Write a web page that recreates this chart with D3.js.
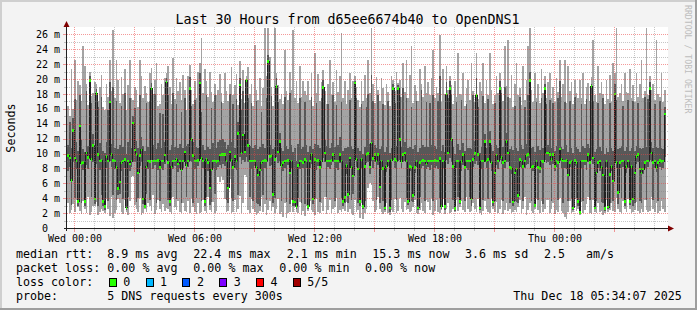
<!doctype html>
<html>
<head>
<meta charset="utf-8">
<script src="https://d3js.org/d3.v7.min.js"></script>
<style>
body { margin: 0; background: #f3f3f3; }
text { font-family: "DejaVu Sans Mono", monospace; fill: #000; }
</style>
</head>
<body>
<script>
var width = 697, height = 310;

// one value per 5 minute step (ms)
var median = [
 9.7,9.4,6.4,13.1,9.4,9.0,3.6,13.7,8.7,8.8,3.6,10.1,9.5,19.8,9.2,11.1,3.9,18.1,9.9,9.0,9.1,3.6,2.9,9.6,9.0,16.9,9.9,9.1,9.0,8.1,5.3,6.2,8.8,9.0,9.2,2.7,9.0,8.6,9.0,14.1,10.5,9.9,7.4,9.7,10.5,3.9,2.9,8.2,9.0,8.9,18.7,9.0,9.0,9.0,9.1,8.1,9.0,9.0,9.8,19.6,8.8,3.6,8.2,9.0,9.0,9.2,8.6,9.0,7.8,9.0,10.2,8.4,
 9.0,18.7,11.9,9.7,9.0,9.0,9.1,19.5,9.3,9.0,3.6,9.2,8.8,5.4,7.8,9.0,9.0,8.9,9.0,9.8,9.9,9.9,9.9,9.0,5.4,10.2,9.1,8.1,9.6,9.0,12.7,19.2,10.1,12.5,10.2,19.8,11.1,9.0,9.0,9.0,9.0,8.1,7.1,7.8,8.8,9.0,9.1,9.0,22.4,9.6,9.7,4.5,9.2,19.0,10.2,11.6,8.4,8.8,9.0,9.0,9.1,7.4,9.0,3.6,3.5,2.9,8.4,9.0,9.0,8.8,9.2,9.0,
 2.9,9.0,9.9,3.9,9.2,9.0,9.1,8.1,9.0,18.9,10.1,9.0,9.0,9.0,9.1,9.9,9.0,9.0,9.0,9.9,9.0,3.6,4.1,8.4,4.5,9.4,8.1,7.0,19.5,9.2,7.9,3.6,9.2,2.9,8.3,9.9,10.0,8.2,11.4,9.3,9.9,9.0,9.9,5.5,9.0,8.0,2.7,8.3,9.0,2.7,9.1,18.7,9.2,9.0,18.7,11.9,8.9,9.9,10.1,9.0,3.6,8.3,8.1,4.4,8.1,9.0,2.7,8.8,9.0,9.1,9.0,8.6,
 9.0,9.0,9.0,9.0,9.1,9.0,9.0,9.3,2.9,9.0,2.9,18.0,10.1,18.7,11.9,8.3,2.6,9.0,9.0,3.6,8.9,9.9,8.1,9.0,9.0,9.0,3.9,9.2,10.0,17.8,9.9,2.7,9.0,9.0,11.6,9.0,9.2,11.6,8.8,3.5,7.4,9.8,9.0,18.7,9.5,8.8,9.0,11.6,10.1,8.1,8.0,3.5,7.4,7.9,4.4,9.2,9.0,8.3,9.0,9.7,9.9,19.8,8.1,8.3,3.0,9.0,8.1,8.0,9.0,8.9,18.7,10.1,
 10.1,9.9,9.2,9.9,8.3,9.0,8.8,10.6,9.2,9.0,9.0,9.1,7.1,8.8,9.0,2.7,9.1,8.8,3.6,2.1,9.0,9.0,9.0,9.0,9.9,8.8,19.0,9.4,2.7,7.4,8.8,9.0,8.1,7.1,2.6,9.0,2.8,7.2,8.3,6.3,18.0,8.8,4.8,8.8,9.0,9.0,3.6,8.3,9.0,3.6,8.3,3.9,7.4,9.6,9.9,7.9,7.4,7.9,8.8,9.0,9.0,18.7,10.1,8.8,9.0,8.1,8.8,9.1,8.9,9.0,15.3
];
var pingMin = [
 3.4,2.0,2.4,3.2,2.1,3.8,2.8,2.3,1.9,3.6,2.6,2.0,4.1,1.7,2.2,3.0,2.9,3.5,1.8,2.1,2.6,2.3,2.0,3.9,2.5,1.6,4.2,1.3,2.0,2.4,3.9,3.4,2.2,1.9,3.7,2.1,1.7,3.6,6.8,7.0,3.1,2.6,2.2,4.0,1.8,2.0,2.6,2.2,3.3,2.9,2.3,4.4,1.9,2.4,3.8,2.6,2.1,3.2,2.3,2.7,2.5,2.2,1.9,4.2,2.8,2.4,3.6,2.2,2.0,3.4,2.3,2.1,
 3.6,2.0,4.0,2.8,2.1,1.9,3.4,2.0,2.2,3.8,2.3,2.0,4.2,2.4,2.2,3.5,2.0,2.3,6.8,6.2,7.0,6.5,3.9,2.1,2.3,6.6,2.0,2.2,3.7,2.1,2.6,4.3,2.0,3.4,7.1,6.9,2.4,2.0,3.9,2.5,2.1,1.8,2.0,2.3,4.1,2.2,3.2,1.7,2.4,3.6,2.3,2.8,2.0,2.6,3.9,1.9,2.1,1.5,3.3,1.4,2.0,2.2,3.8,2.1,2.8,2.2,2.0,3.5,1.8,2.3,1.6,3.0,
 2.3,3.6,2.4,2.1,1.8,3.9,2.2,2.0,3.4,2.3,4.1,1.9,2.4,3.7,2.0,2.5,2.8,4.0,2.0,2.4,2.1,2.6,2.3,3.5,2.2,2.5,2.0,1.7,3.8,2.1,2.4,1.4,3.3,1.2,2.0,2.6,5.4,6.0,5.8,3.6,2.1,2.4,4.2,2.6,2.2,1.9,2.1,3.4,2.0,1.8,2.4,2.2,3.9,2.0,2.3,4.0,2.5,2.2,3.5,2.4,2.6,2.1,2.3,2.8,3.7,2.0,1.9,2.4,3.3,2.3,2.0,3.8,
 3.5,2.4,4.0,1.8,2.3,3.7,2.2,2.0,2.4,3.9,1.9,2.5,3.4,2.0,2.2,2.6,2.1,3.8,2.3,2.8,3.6,2.4,2.2,4.1,2.5,2.1,2.3,3.3,2.6,2.2,3.9,2.0,1.7,2.3,3.6,2.5,2.2,2.0,4.0,2.6,2.1,3.5,2.0,2.5,3.8,1.9,2.4,3.4,2.3,2.6,2.0,2.2,2.4,2.1,2.8,3.7,2.0,2.5,4.2,1.8,2.4,3.3,2.3,2.0,2.6,3.9,2.4,2.0,3.6,2.1,2.5,3.8,
 3.8,2.0,2.5,3.4,1.9,2.4,2.1,4.0,2.3,2.0,1.5,1.2,2.2,3.6,2.0,2.1,3.9,2.3,2.6,1.8,3.5,2.0,2.4,3.2,4.1,2.0,1.9,3.7,2.2,2.0,3.4,2.1,2.3,1.8,2.0,3.8,2.2,2.4,3.3,2.3,2.1,4.0,2.6,2.2,2.0,3.6,2.6,2.1,3.9,2.5,2.0,2.2,2.4,3.5,2.3,2.0,2.5,2.2,3.7,2.4,2.1,2.3,4.1,2.6,2.2,3.4,2.0,2.3,3.6,2.5,2.2
];
var ping2 = [
 7.6,8.2,3.1,8.8,4.0,7.9,3.0,9.0,3.4,7.8,3.0,8.4,7.9,9.3,4.2,8.9,3.2,8.6,3.0,7.8,4.4,3.0,2.4,8.1,3.6,9.0,8.2,4.4,7.9,3.7,4.4,4.6,7.7,3.9,8.0,2.4,4.2,7.6,8.2,8.8,8.9,3.5,4.0,8.3,8.8,3.2,2.7,4.6,7.9,3.8,9.1,7.9,8.4,3.4,7.8,3.6,8.0,7.8,8.6,9.2,3.8,3.0,4.0,7.9,8.3,3.9,7.5,8.1,3.4,8.0,8.8,4.1,
 8.2,9.0,8.8,3.4,7.9,4.0,8.3,9.4,3.6,8.0,3.0,4.2,7.6,3.1,3.5,8.1,4.6,7.8,8.2,8.4,8.0,8.6,8.3,3.8,3.4,8.9,4.0,3.6,8.1,7.8,4.4,9.5,8.6,9.2,8.8,9.6,8.9,4.2,7.9,3.6,8.3,3.4,3.2,3.0,7.6,4.4,8.0,3.8,9.8,8.3,8.5,3.4,4.0,9.6,8.7,9.0,3.6,7.6,8.0,3.5,8.4,3.2,8.1,3.0,3.0,2.5,4.0,7.9,3.4,8.0,3.2,8.1,
 2.6,8.1,8.6,3.2,4.0,7.8,8.3,3.5,8.0,9.4,8.8,4.2,8.2,7.9,8.4,8.8,3.6,8.0,7.8,8.7,4.0,3.0,3.3,7.2,3.4,8.6,3.8,4.6,9.3,8.2,3.4,2.9,8.0,2.5,3.6,8.7,8.8,7.2,9.0,8.1,8.9,3.8,8.4,3.4,7.8,3.6,2.4,7.5,8.3,2.2,3.8,9.2,8.0,3.8,9.0,9.2,8.0,8.8,9.0,4.0,3.1,7.6,3.6,3.5,7.4,8.2,2.4,4.2,8.1,8.3,3.6,7.9,
 8.2,7.8,8.4,3.6,8.0,8.3,7.9,4.0,2.6,8.1,2.4,9.2,8.6,9.4,8.8,3.8,2.3,8.0,4.2,3.2,7.6,8.4,3.6,8.0,7.8,4.1,3.0,8.2,8.6,9.0,8.4,2.4,7.9,3.8,8.8,8.1,3.9,9.0,7.7,3.0,3.6,8.4,7.9,9.2,8.6,3.6,8.0,8.9,8.8,3.4,7.2,2.9,3.6,3.5,3.4,8.2,8.1,3.6,8.0,8.4,8.6,9.4,3.6,7.6,2.9,8.2,3.8,7.4,8.1,3.2,9.1,8.7,
 8.8,8.4,3.6,8.6,7.6,8.2,3.8,9.0,8.1,3.4,8.0,7.9,3.6,8.2,3.9,2.4,8.3,4.0,2.9,1.9,8.1,3.6,8.4,7.8,8.8,3.8,9.2,8.6,2.5,3.6,8.0,7.7,3.5,3.3,2.3,8.2,2.5,3.4,7.6,3.6,9.0,8.0,3.2,8.1,4.0,8.2,3.0,7.4,8.0,3.1,3.8,3.0,3.4,8.6,8.8,3.6,3.4,7.2,8.0,3.7,8.2,9.2,8.9,3.8,8.0,7.5,3.6,8.2,7.8,8.1,9.6
];
var ping4 = [
 11.2,14.2,10.8,14.8,17.3,11.5,10.4,17.9,11.8,10.6,10.2,18.4,11.0,20.4,16.8,12.6,10.9,18.7,16.2,11.4,17.6,10.3,10.1,11.6,15.8,19.6,11.3,18.9,10.8,17.0,10.6,11.2,16.4,10.9,18.2,10.0,11.5,17.4,10.8,15.0,16.1,11.7,10.7,17.8,12.2,11.0,10.4,16.8,10.9,17.1,19.5,11.2,18.0,10.6,11.4,15.4,10.8,15.3,11.6,20.1,17.9,10.5,11.1,18.2,10.9,16.6,10.7,11.3,15.6,10.8,17.5,11.0,
 11.3,20.3,16.4,11.6,17.2,10.9,10.8,20.8,15.6,11.2,10.5,17.9,10.9,10.6,16.1,11.4,17.8,10.7,11.5,11.8,16.9,12.0,11.6,10.6,11.2,18.0,11.5,16.6,10.8,17.3,14.2,20.2,15.9,18.4,11.9,19.9,17.5,11.0,16.8,10.7,11.1,17.0,10.6,10.9,15.6,11.3,10.8,17.4,23.2,11.2,17.7,10.6,10.9,20.1,16.9,12.8,10.8,10.4,17.6,11.0,10.6,18.2,11.2,10.2,10.8,9.0,11.3,17.4,10.6,10.9,16.9,11.1,
 10.2,11.0,17.6,10.6,11.3,16.8,11.1,10.7,17.4,19.9,11.8,11.0,16.6,10.8,11.4,17.8,10.9,16.5,11.1,12.2,16.9,10.4,10.7,10.8,10.9,17.2,11.0,10.6,19.8,17.4,10.8,10.3,16.6,10.0,10.9,16.2,18.0,11.3,20.6,17.1,11.2,10.8,17.8,10.6,11.0,16.7,10.2,10.9,17.1,10.1,10.8,19.4,16.8,11.0,19.2,17.6,10.9,18.8,11.5,17.4,10.7,10.9,16.2,10.6,11.1,17.0,10.2,10.8,18.6,11.1,10.9,16.9,
 10.9,16.8,11.1,17.9,11.0,10.6,17.0,20.4,10.3,11.2,10.2,19.6,17.4,19.8,18.0,10.9,10.0,16.9,11.3,10.5,17.2,11.4,10.4,16.6,10.8,10.7,10.6,17.8,11.7,20.1,16.2,10.1,10.9,17.7,12.6,10.8,17.3,13.0,11.1,10.4,16.8,11.2,10.7,19.8,18.1,10.9,19.0,12.8,17.6,10.6,11.0,10.5,16.4,10.8,10.3,17.6,11.1,10.6,16.3,11.3,17.8,21.0,10.8,10.9,10.2,16.9,11.0,10.5,17.4,10.8,19.4,16.6,
 11.2,17.2,10.8,16.8,10.4,11.0,17.4,19.8,10.9,10.6,16.9,11.1,10.2,17.1,10.8,10.1,17.6,10.9,10.6,10.2,16.6,11.0,10.7,17.3,11.3,10.8,19.4,17.0,10.2,10.6,16.8,10.9,10.4,17.4,10.0,10.8,10.2,16.8,10.7,10.4,19.4,17.2,10.6,10.8,11.0,16.4,10.4,10.9,17.2,10.4,10.7,17.0,10.4,11.0,16.8,10.8,10.6,10.7,17.6,10.9,17.3,19.6,11.6,10.7,16.6,10.9,10.7,17.0,10.8,10.6,16.2
];
var pingMax = [
 16.4,15.0,21.3,16.0,22.6,17.2,19.8,19.2,17.0,24.4,21.7,19.4,16.5,21.0,17.7,18.2,19.6,19.3,17.1,19.0,20.6,16.3,15.8,19.4,17.6,22.6,18.4,26.6,17.5,22.6,19.9,16.8,20.3,18.0,21.3,15.9,19.2,22.6,17.4,17.2,19.0,18.6,16.2,22.6,20.4,17.5,19.1,18.1,16.9,20.8,21.5,18.0,19.9,22.2,16.4,16.6,19.3,17.8,20.2,20.8,21.7,18.9,16.6,22.8,17.3,20.2,18.4,19.6,17.2,20.6,18.6,15.8,
 20.4,21.9,18.6,16.6,19.8,17.4,21.0,22.2,25.5,18.2,21.4,19.8,17.6,20.9,18.3,16.9,19.4,17.8,18.5,20.7,18.2,16.8,20.8,18.4,17.0,19.4,21.6,17.9,19.2,20.7,16.5,22.4,17.3,21.2,16.8,20.4,21.6,18.0,19.4,16.4,24.6,18.5,17.2,20.2,16.4,18.8,26.9,20.4,26.9,23.0,18.9,16.4,26.9,20.8,19.2,17.3,18.0,16.6,23.9,18.4,17.2,20.9,18.6,26.6,17.4,19.8,16.8,21.7,17.6,19.8,18.4,17.9,
 19.8,17.2,20.8,16.4,23.5,18.1,20.7,17.0,19.6,21.2,18.4,16.7,19.4,22.6,17.8,19.6,16.9,21.2,18.3,20.4,26.2,17.4,19.8,16.6,18.5,20.8,17.5,19.7,20.4,19.0,17.2,16.3,19.8,17.1,20.6,17.4,22.6,18.2,26.9,19.4,16.8,20.3,18.6,17.0,20.2,18.8,16.5,19.4,18.3,16.4,20.4,19.9,18.4,21.0,19.5,19.9,17.6,22.2,18.3,22.6,17.4,20.5,24.4,16.8,19.2,18.4,17.0,21.3,19.4,17.6,21.7,18.2,
 19.6,17.8,20.2,23.9,17.4,19.0,18.2,25.9,16.9,21.4,18.0,21.7,18.6,20.4,19.2,16.7,19.8,17.6,23.5,18.0,17.9,20.8,16.4,18.8,19.9,17.2,22.2,18.4,16.9,23.5,17.3,19.6,18.4,22.2,16.8,19.9,17.9,23.5,18.5,16.6,17.8,20.4,18.2,20.8,19.0,17.0,24.4,19.1,25.3,17.4,20.6,16.2,19.4,22.2,17.8,18.8,16.5,21.7,17.2,19.9,24.4,26.9,18.6,16.9,20.8,17.5,19.4,16.8,21.3,18.2,20.4,17.4,
 19.6,20.8,17.4,19.0,16.9,20.2,18.3,22.6,17.6,19.4,22.6,16.8,21.7,18.4,19.6,16.7,19.9,18.2,17.4,19.9,17.5,20.8,16.6,18.9,19.5,17.0,20.3,25.3,17.8,16.9,21.7,18.2,19.6,18.0,16.6,19.9,17.3,20.6,16.9,22.2,20.8,26.9,17.6,18.1,19.4,17.0,20.8,18.3,18.1,21.3,17.4,19.2,16.9,20.8,17.6,19.4,22.6,17.5,18.4,26.9,17.8,20.4,18.6,19.4,17.2,25.3,18.0,17.6,20.8,16.9,18.6
];

var yTickValues = d3.range(0, 27, 2);
var lossLabels = ["0", "1", "2", "3", "4", "5/5"];
var lossColors = ["#26ff00", "#00b8ff", "#0059ff", "#7e00ff", "#ff0000", "#a10000"];

var legendRows = [
  [["median rtt:", 16], ["8.9 ms avg", 107.3], ["22.4 ms max", 193.3], ["2.1 ms min", 286.7], ["15.3 ms now", 372.3], ["3.6 ms sd", 465], ["2.5", 544], ["am/s", 586]],
  [["packet loss:", 16], ["0.00 % avg", 107.3], ["0.00 % max", 193.3], ["0.00 % min", 279.3], ["0.00 % now", 365]],
  [["loss color:", 16]],
  [["probe:", 16], ["5 DNS requests every 300s", 107.3]]
];

var start = new Date(2025, 11, 16, 23, 39),
    end = new Date(2025, 11, 18, 5, 39),
    firstStep = new Date(2025, 11, 16, 23, 40),
    stepMs = 300 * 1000;

var x = d3.scaleTime().domain([start, end]).range([67, 667]);
var y = d3.scaleLinear().domain([0, 27]).range([228, 27]);

var steps = median.map(function(m, i) {
  return {t: new Date(+firstStep + i * stepMs), lo: pingMin[i], p2: ping2[i], med: m, p4: ping4[i], hi: pingMax[i]};
});
var lastStep = steps[steps.length - 1];
var stepsEnd = steps.concat([Object.assign({}, lastStep, {t: new Date(+lastStep.t + stepMs)})]);

var svg = d3.select("body").append("svg")
  .attr("width", width)
  .attr("height", height);

svg.append("rect").attr("width", width).attr("height", height).attr("fill", "#f3f3f3");
// frame
svg.append("rect").attr("x", 0).attr("y", 0).attr("width", width).attr("height", 2).attr("fill", "#cfcfcf");
svg.append("rect").attr("x", 0).attr("y", 0).attr("width", 2).attr("height", height).attr("fill", "#cfcfcf");
svg.append("rect").attr("x", 0).attr("y", height - 2).attr("width", width).attr("height", 2).attr("fill", "#9e9e9e");
svg.append("rect").attr("x", width - 2).attr("y", 0).attr("width", 2).attr("height", height).attr("fill", "#9e9e9e");

// canvas
svg.append("rect").attr("x", 67).attr("y", 27).attr("width", 601).attr("height", 201).attr("fill", "#fff");

var plot = svg.append("g").attr("shape-rendering", "crispEdges");

// smoke
plot.append("path")
  .datum(stepsEnd)
  .attr("fill", "#a4a4a4")
  .attr("d", d3.area().curve(d3.curveStepAfter)
    .x(function(d) { return x(d.t); })
    .y0(function(d) { return y(d.lo); })
    .y1(function(d) { return y(d.hi); }));

plot.append("path")
  .datum(stepsEnd)
  .attr("fill", "#585858")
  .attr("d", d3.area().curve(d3.curveStepAfter)
    .x(function(d) { return x(d.t); })
    .y0(function(d) { return y(d.p2); })
    .y1(function(d) { return y(d.p4); }));

// median line
plot.append("path")
  .datum(stepsEnd)
  .attr("fill", "none")
  .attr("stroke", "#202020")
  .attr("stroke-width", 1)
  .attr("d", d3.line().curve(d3.curveStepAfter)
    .x(function(d) { return x(d.t); })
    .y(function(d) { return y(d.med); }));

// loss coloured median marks
plot.selectAll("rect.med")
  .data(steps)
  .enter().append("rect")
  .attr("class", "med")
  .attr("x", function(d) { return x(d.t); })
  .attr("width", function(d) { return x(new Date(+d.t + stepMs)) - x(d.t); })
  .attr("y", function(d) { return y(d.med) - 1.3; })
  .attr("height", 2.6)
  .attr("fill", lossColors[0]);

// grid
var grid = svg.append("g").attr("shape-rendering", "crispEdges");
var hours = d3.timeHour.range(d3.timeHour.ceil(start), end);
var minorCol = "rgba(128,128,128,0.45)", majorCol = "rgba(235,70,70,0.55)";

grid.selectAll("line.vg")
  .data(hours)
  .enter().append("line")
  .attr("class", "vg")
  .attr("x1", function(d) { return Math.round(x(d)) + 0.5; })
  .attr("x2", function(d) { return Math.round(x(d)) + 0.5; })
  .attr("y1", 27).attr("y2", 228)
  .attr("stroke", function(d) { return d.getHours() % 3 === 0 ? majorCol : minorCol; })
  .attr("stroke-dasharray", "1,1");

grid.selectAll("line.hg")
  .data(d3.range(1, 27))
  .enter().append("line")
  .attr("class", "hg")
  .attr("x1", 67).attr("x2", 668)
  .attr("y1", function(d) { return Math.round(y(d)) + 0.5; })
  .attr("y2", function(d) { return Math.round(y(d)) + 0.5; })
  .attr("stroke", function(d) { return d % 2 === 0 ? majorCol : minorCol; })
  .attr("stroke-dasharray", "1,1");

// axis ticks
grid.selectAll("line.xt")
  .data(hours)
  .enter().append("line")
  .attr("class", "xt")
  .attr("x1", function(d) { return Math.round(x(d)) + 0.5; })
  .attr("x2", function(d) { return Math.round(x(d)) + 0.5; })
  .attr("y1", 229).attr("y2", function(d) { return d.getHours() % 3 === 0 ? 232 : 231; })
  .attr("stroke", function(d) { return d.getHours() % 3 === 0 ? majorCol : minorCol; });

grid.selectAll("line.yt")
  .data(d3.range(1, 27))
  .enter().append("line")
  .attr("class", "yt")
  .attr("x1", function(d) { return d % 2 === 0 ? 63 : 64; }).attr("x2", 66)
  .attr("y1", function(d) { return Math.round(y(d)) + 0.5; })
  .attr("y2", function(d) { return Math.round(y(d)) + 0.5; })
  .attr("stroke", function(d) { return d % 2 === 0 ? majorCol : minorCol; });

// axes
svg.append("line").attr("x1", 64).attr("x2", 669).attr("y1", 228.5).attr("y2", 228.5)
  .attr("stroke", "#202020").attr("shape-rendering", "crispEdges");
svg.append("line").attr("x1", 66.5).attr("x2", 66.5).attr("y1", 231).attr("y2", 23)
  .attr("stroke", "#202020").attr("shape-rendering", "crispEdges");
svg.append("path").attr("d", "M668,225.5L674,228.5L668,231.5Z").attr("fill", "#800000");
svg.append("path").attr("d", "M63.5,27L66.5,21L69.5,27Z").attr("fill", "#800000");

// axis labels
svg.selectAll("text.xl")
  .data(hours.filter(function(d) { return d.getHours() % 6 === 0; }))
  .enter().append("text")
  .attr("class", "xl")
  .attr("x", function(d) { return x(d) + 1; })
  .attr("y", 241.5)
  .attr("text-anchor", "middle")
  .attr("font-size", "10px")
  .text(d3.timeFormat("%a %H:%M"));

svg.selectAll("text.yl")
  .data(yTickValues)
  .enter().append("text")
  .attr("class", "yl")
  .attr("x", 48)
  .attr("y", function(d) { return y(d) + 3.6; })
  .attr("text-anchor", "end")
  .attr("font-size", "10px")
  .text(function(d) { return d; });

svg.selectAll("text.yu")
  .data(yTickValues.filter(function(d) { return d > 0; }))
  .enter().append("text")
  .attr("class", "yu")
  .attr("x", 54)
  .attr("y", function(d) { return y(d) + 3.6; })
  .attr("font-size", "10px")
  .text("m");

svg.append("text")
  .attr("transform", "translate(15.3,128) rotate(-90)")
  .attr("text-anchor", "middle")
  .attr("font-size", "11.7px")
  .text("Seconds");

svg.append("text")
  .attr("x", 347.5).attr("y", 24)
  .attr("text-anchor", "middle")
  .attr("font-size", "13.3px")
  .text("Last 30 Hours from d65ee6674b40 to OpenDNS1");

svg.append("text")
  .attr("transform", "translate(685,5) rotate(90)")
  .attr("font-size", "8.2px")
  .style("fill", "#bdbdbd")
  .text("RRDTOOL / TOBI OETIKER");

// legend
var rowBase = [258.3, 272, 285.8, 299.5];
legendRows.forEach(function(row, r) {
  svg.selectAll(null)
    .data(row)
    .enter().append("text")
    .attr("x", function(d) { return d[1]; })
    .attr("y", rowBase[r])
    .attr("font-size", "11.67px")
    .text(function(d) { return d[0]; });
});

var boxX = d3.scalePoint().domain(lossLabels).range([108.7, 292.7]);
svg.selectAll("rect.lb")
  .data(lossLabels)
  .enter().append("rect")
  .attr("class", "lb")
  .attr("x", function(d) { return boxX(d) + 0.5; })
  .attr("y", 278.5)
  .attr("width", 7).attr("height", 8)
  .attr("fill", function(d, i) { return lossColors[i]; })
  .attr("stroke", "#000")
  .attr("shape-rendering", "crispEdges");

svg.selectAll("text.ll")
  .data(lossLabels)
  .enter().append("text")
  .attr("class", "ll")
  .attr("x", function(d) { return boxX(d) + 14.6; })
  .attr("y", rowBase[2])
  .attr("font-size", "11.67px")
  .text(function(d) { return d; });

svg.append("text")
  .attr("x", 513.3).attr("y", rowBase[3])
  .attr("font-size", "11.67px")
  .text("Thu Dec 18 05:34:07 2025");
</script>
</body>
</html>
